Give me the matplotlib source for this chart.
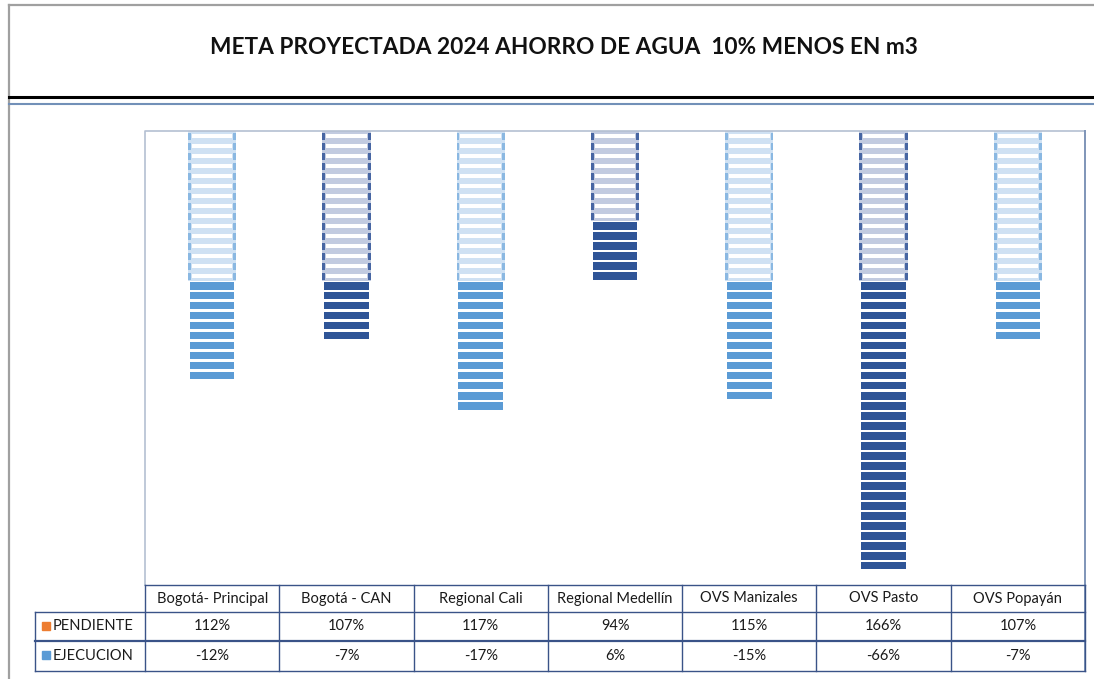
import numpy as np
import matplotlib.pyplot as plt
from matplotlib.patches import Rectangle

plt.rcParams['font.family'] = ['Lato', 'DejaVu Sans']

titulo = "META PROYECTADA 2024 AHORRO DE AGUA  10% MENOS EN m3"
sedes = ["Bogotá- Principal", "Bogotá - CAN", "Regional Cali", "Regional Medellín",
         "OVS Manizales", "OVS Pasto", "OVS Popayán"]
pendiente = [112, 107, 117, 94, 115, 166, 107]
ejecucion = [-12, -7, -17, 6, -15, -66, -7]

# largo de cada tramo (1 unidad = una franja)
tramo_meta = [15.0, 15.0, 15.0, 9.0, 15.0, 15.0, 15.0]
tramo_real = [9.8, 6.1, 12.9, 5.9, 11.7, 28.7, 6.1]
tono = ["claro", "oscuro", "claro", "oscuro", "claro", "oscuro", "claro"]

paleta = {
    "claro": ("#5b9bd5", "#cfe1f3", "#8ab8e2"),
    "oscuro": ("#2f5597", "#c2cbe0", "#4766a3"),
}

W, H = 1094, 679
fig = plt.figure(figsize=(W / 100, H / 100), dpi=100)


def fx(px):
    return px / W


def fy(py):
    return 1 - py / H


x0, x1, ytop, ybot = 145, 1085, 131, 585
ax = fig.add_axes([fx(x0), fy(ybot), fx(x1) - fx(x0), fy(ytop) - fy(ybot)])
ax.set_xlim(-0.5, len(sedes) - 0.5)
ax.set_ylim(45.4, 0)
ax.axis('off')

w = 0.36
tw = 0.022
for i in range(len(sedes)):
    solido, tinte, borde = paleta[tono[i]]
    m = tramo_meta[i]
    ax.bar(i, m, width=w, bottom=0, color=tinte, linewidth=0)
    for k in range(int(np.ceil(m))):
        ax.bar(i, 0.4, width=w * 0.84, bottom=k + 0.3, color="white", linewidth=0)
        ax.bar(i - w / 2 + tw / 2, 0.7, width=tw, bottom=k + 0.15, color=borde, linewidth=0)
        ax.bar(i + w / 2 - tw / 2, 0.7, width=tw, bottom=k + 0.15, color=borde, linewidth=0)
    r = tramo_real[i]
    for y in np.arange(m, m + r - 0.1, 1.0):
        h = min(0.72, m + r - y)
        ax.bar(i, h, width=w * 0.92, bottom=y + 0.13, color=solido, linewidth=0)

# marco, titulo y tabla
ov = fig.add_axes([0, 0, 1, 1])
ov.set_xlim(0, W)
ov.set_ylim(H, 0)
ov.axis('off')

ov.plot([9, W], [5, 5], color="#a0a0a0", lw=1.6)
ov.plot([9, 9], [5, H], color="#a0a0a0", lw=1.6)
ov.plot([9, W], [97, 97], color="black", lw=2.2)
ov.plot([9, W], [104, 104], color="#7290b8", lw=1.5)
ov.text(564, 48, titulo, ha="center", va="center", fontsize=16.3, fontweight="bold", color="#111111")

ov.plot([x0, x0, x1], [ybot, ytop, ytop], color="#b4c0d2", lw=1.2)
ov.plot([x1, x1], [ytop, 671], color="#7f95b8", lw=1.4)

navy = "#3a5388"
ov.plot([x0, x1], [585, 585], color=navy, lw=1.0)
ov.plot([35, x1], [612, 612], color=navy, lw=1.0)
ov.plot([35, x1], [641, 641], color=navy, lw=1.6)
ov.plot([35, x1], [671, 671], color=navy, lw=1.0)
ov.plot([35, 35], [612, 671], color=navy, lw=1.0)
ov.plot([x0, x0], [585, 671], color=navy, lw=1.0)

cw = (x1 - x0) / len(sedes)
for i, s in enumerate(sedes):
    ov.plot([x0 + (i + 1) * cw] * 2, [585, 671], color=navy, lw=1.0)
    cx = x0 + (i + 0.5) * cw
    ov.text(cx, 598.5, s, ha="center", va="center", fontsize=10.5, color="#1a1a1a")
    ov.text(cx, 626.5, f"{pendiente[i]}%", ha="center", va="center", fontsize=10.5, color="#1a1a1a")
    ov.text(cx, 656, f"{ejecucion[i]}%", ha="center", va="center", fontsize=10.5, color="#1a1a1a")

ov.add_patch(Rectangle((42, 622), 8, 8, color="#ed7d31"))
ov.add_patch(Rectangle((42, 651), 8, 8, color="#5b9bd5"))
ov.text(53, 626.5, "PENDIENTE", ha="left", va="center", fontsize=10.5, color="#1a1a1a")
ov.text(53, 656, "EJECUCION", ha="left", va="center", fontsize=10.5, color="#1a1a1a")

fig.savefig("out.png", dpi=100)
